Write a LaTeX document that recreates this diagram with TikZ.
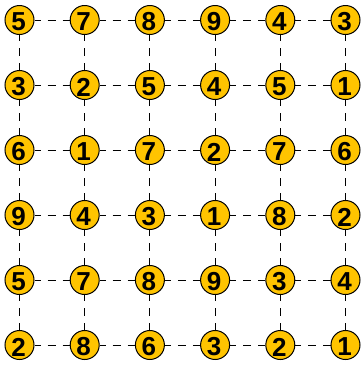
\documentclass[tikz,border=0pt]{standalone}
\usepackage{fontspec}
\setmainfont{Liberation Sans}
\definecolor{gold}{RGB}{255,196,0}
\begin{document}
\begin{tikzpicture}[x=1pt,y=-1pt,
  ball/.style={circle,draw=black,line width=1pt,fill=gold,minimum size=29pt,inner sep=0pt},
  num/.style={font=\fontsize{26}{26}\selectfont\bfseries,inner sep=0pt},
  link/.style={draw=black,line width=1pt,dash pattern=on 6pt off 7pt on 8pt off 7pt on 8pt off 20pt}]
\fill[white] (0,0) rectangle (363,365);
\useasboundingbox (0,0) rectangle (363,365);
\foreach \r [count=\j from 0] in {{5,7,8,9,4,3},{3,2,5,4,5,1},{6,1,7,2,7,6},{9,4,3,1,8,2},{5,7,8,9,3,4},{2,8,6,3,2,1}}{
  \foreach \v [count=\i from 0] in \r {
    \node[ball] (n\i\j) at ({19.5+65.2*\i},{20+65*\j}) {};
    \node[num] (t\i\j) at ([xshift=-1pt,yshift=-2pt]n\i\j.center) {\v};
  }
}
\foreach \j in {0,...,5}{
  \foreach \i [evaluate=\i as \k using int(\i+1)] in {0,...,4}{
    \path[link] (n\i\j) -- (n\k\j);
  }
}
\foreach \i in {0,...,5}{
  \foreach \j [evaluate=\j as \k using int(\j+1)] in {0,...,4}{
    \path[link] (n\i\j) -- (n\i\k);
  }
}
\end{tikzpicture}
\end{document}
